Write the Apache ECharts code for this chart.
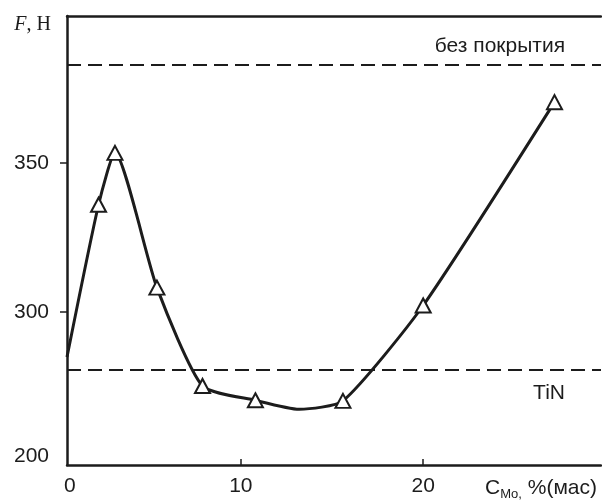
<!DOCTYPE html>
<html>
<head>
<meta charset="utf-8">
<script src="https://cdn.jsdelivr.net/npm/echarts@6/dist/echarts.min.js"></script>
<style>
  html, body { margin: 0; padding: 0; background: #fff; }
  #chart { width: 602px; height: 501px; }
</style>
</head>
<body>
<div id="chart"></div>
<script>
// Measured points (triangles): Mo content, % (mass) vs. force F, N
const measuredMo = [2.2, 3.1, 5.4, 7.9, 10.8, 15.6, 20.0, 27.2];
const measuredF  = [336, 353.4, 308.2, 275.2, 270.4, 270.2, 302.2, 370.4];

// Fitted curve through the measurements (starts at the axis, dips between 10.8 and 15.6)
const curveMo = [0.47, 2.2, 3.1, 5.4, 7.9, 10.8, 13.2, 15.6, 20.0, 27.2];
const curveF  = [284.9, 336, 353.4, 308.2, 275.2, 270.4, 267.4, 270.2, 302.2, 370.4];

// Reference levels
const refUncoated = 382.8;   // без покрытия
const refTiN = 280.6;        // TiN

// Axis labels and ticks
const xLabelPos = [0.62, 10, 20];
const xLabelText = ['0', '10', '20'];
const xTickPos = [10, 20];
const yLabelPos = [251.7, 300, 350];
const yLabelText = ['200', '300', '350'];
const yTickPos = [300, 350];

const ink = '#1c1c1c';
const sans = 'Liberation Sans';
const fs = 21;

const chart = echarts.init(document.getElementById('chart'), null, { renderer: 'canvas' });

function pick(pos, text, v) {
  for (let i = 0; i < pos.length; i++) {
    if (Math.abs(pos[i] - v) < 1e-6) return text[i];
  }
  return '';
}

chart.setOption({
  animation: false,
  backgroundColor: '#fff',
  grid: { left: 67, right: 1, top: 16, bottom: 33 },
  xAxis: [{
    type: 'value',
    min: 0.47,
    max: 29.75,
    axisLine: { show: true, lineStyle: { color: ink, width: 2.5 } },
    axisTick: { show: true, inside: true, length: 6, customValues: xTickPos, lineStyle: { color: ink, width: 1.5 } },
    axisLabel: {
      customValues: xLabelPos,
      formatter: v => pick(xLabelPos, xLabelText, v),
      margin: 11,
      color: ink,
      fontFamily: sans,
      fontSize: fs
    },
    splitLine: { show: false },
    name: 'C{sub|Mo,} %(мас)',
    nameLocation: 'end',
    nameGap: -4,
    nameTextStyle: {
      align: 'right',
      verticalAlign: 'top',
      padding: [10, 0, 0, 0],
      color: ink,
      fontFamily: sans,
      fontSize: fs,
      rich: {
        sub: { fontFamily: sans, fontSize: 13, color: ink, verticalAlign: 'bottom', padding: [13, 0, 0, 0] }
      }
    }
  }, {
    // top frame line
    type: 'value',
    position: 'top',
    min: 0.47,
    max: 29.75,
    axisLine: { show: true, lineStyle: { color: ink, width: 2.5 } },
    axisTick: { show: false },
    axisLabel: { show: false },
    splitLine: { show: false }
  }],
  yAxis: {
    type: 'value',
    min: 248.7,
    max: 399.3,
    axisLine: { show: true, lineStyle: { color: ink, width: 2.5 } },
    axisTick: { show: true, inside: false, length: 7, customValues: yTickPos, lineStyle: { color: ink, width: 1.5 } },
    axisLabel: {
      customValues: yLabelPos,
      formatter: v => pick(yLabelPos, yLabelText, v),
      margin: 18,
      color: ink,
      fontFamily: sans,
      fontSize: fs
    },
    splitLine: { show: false },
    name: '{i|F}{r|, Н}',
    nameLocation: 'end',
    nameGap: -19,
    nameTextStyle: {
      align: 'right',
      padding: [0, 16, 0, 0],
      rich: {
        i: { fontFamily: 'Liberation Serif', fontStyle: 'italic', fontSize: 20, color: ink },
        r: { fontFamily: 'Liberation Serif', fontSize: 20, color: ink }
      }
    }
  },
  series: [{
    type: 'line',
    data: curveMo.map((x, i) => [x, curveF[i]]),
    smooth: 0.2,
    showSymbol: false,
    symbol: 'none',
    lineStyle: { color: ink, width: 3 },
    z: 3,
    markLine: {
      silent: true,
      symbol: 'none',
      lineStyle: { color: ink, width: 2, type: [14, 7] },
      data: [
        {
          yAxis: refUncoated,
          label: {
            formatter: 'без покрытия',
            position: 'insideEndTop',
            distance: [36, 8],
            color: ink,
            fontFamily: sans,
            fontSize: fs
          }
        },
        {
          yAxis: refTiN,
          label: {
            formatter: 'TiN',
            position: 'insideEndBottom',
            distance: [36, 13],
            color: ink,
            fontFamily: sans,
            fontSize: fs
          }
        }
      ]
    }
  }, {
    type: 'scatter',
    data: measuredMo.map((x, i) => [x, measuredF[i]]),
    symbol: 'triangle',
    symbolSize: [15, 14],
    itemStyle: { color: '#fff', borderColor: ink, borderWidth: 2, opacity: 1 },
    z: 5
  }]
});
</script>
</body>
</html>
